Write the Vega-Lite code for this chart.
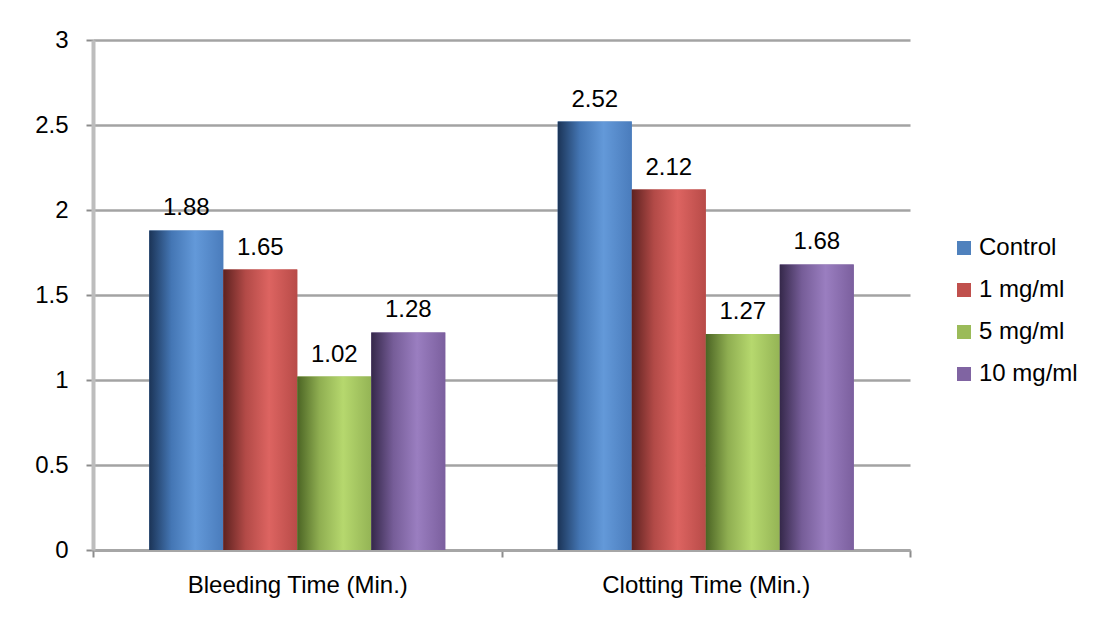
{
  "$schema": "https://vega.github.io/schema/vega-lite/v6.json",
  "width": 817,
  "height": 510,
  "autosize": {"type": "none"},
  "padding": {"left": 93, "top": 40, "right": 184, "bottom": 67},
  "background": "white",
  "config": {
    "font": "Liberation Sans",
    "view": {"stroke": null}
  },
  "data": {
    "values": [
      {"test": "Bleeding Time (Min.)", "group": "Control", "value": 1.88},
      {"test": "Bleeding Time (Min.)", "group": "1 mg/ml", "value": 1.65},
      {"test": "Bleeding Time (Min.)", "group": "5 mg/ml", "value": 1.02},
      {"test": "Bleeding Time (Min.)", "group": "10 mg/ml", "value": 1.28},
      {"test": "Clotting Time (Min.)", "group": "Control", "value": 2.52},
      {"test": "Clotting Time (Min.)", "group": "1 mg/ml", "value": 2.12},
      {"test": "Clotting Time (Min.)", "group": "5 mg/ml", "value": 1.27},
      {"test": "Clotting Time (Min.)", "group": "10 mg/ml", "value": 1.68}
    ]
  },
  "encoding": {
    "x": {
      "field": "test",
      "type": "nominal",
      "scale": {"paddingInner": 0, "paddingOuter": 0},
      "axis": {
        "title": null,
        "labelAngle": 0,
        "labelFontSize": 24,
        "labelLimit": 0,
        "labelColor": "#000000",
        "labelPadding": 16,
        "tickBand": "extent",
        "tickSize": 7,
        "tickColor": "#8c8c8c",
        "tickWidth": 2,
        "domainColor": "#a6a6a6",
        "domainWidth": 3
      }
    },
    "xOffset": {
      "field": "group",
      "type": "nominal",
      "scale": {"domain": ["Control", "1 mg/ml", "5 mg/ml", "10 mg/ml"], "paddingInner": 0, "paddingOuter": 0.76}
    },
    "y": {
      "field": "value",
      "type": "quantitative",
      "scale": {"domain": [0, 3], "nice": false},
      "axis": {
        "title": null,
        "values": [0, 0.5, 1, 1.5, 2, 2.5, 3],
        "format": "~g",
        "labelFontSize": 24,
        "labelColor": "#000000",
        "labelPadding": 18,
        "tickSize": 7,
        "tickColor": "#8c8c8c",
        "tickWidth": 2,
        "domainColor": "#bdbdbd",
        "domainWidth": 4,
        "grid": true,
        "gridColor": "#a3a3a3",
        "gridWidth": 2.5
      }
    }
  },
  "layer": [
    {
      "mark": {"type": "bar"},
      "encoding": {
        "color": {
          "field": "group",
          "type": "nominal",
          "scale": {
            "domain": ["Control", "1 mg/ml", "5 mg/ml", "10 mg/ml"],
            "range": ["#4f81bd", "#c0504d", "#9bbb59", "#8064a2"]
          },
          "legend": {
            "title": null,
            "orient": "none",
            "legendX": 859,
            "legendY": 196,
            "symbolType": "square",
            "symbolSize": 196,
            "symbolStrokeWidth": 0,
            "labelFontSize": 24,
            "labelColor": "#000000",
            "labelOffset": 3,
            "rowPadding": 18
          }
        }
      }
    },
    {
      "mark": {"type": "bar"},
      "encoding": {
        "color": {
          "condition": [
            {"test": "datum.group === 'Control'", "value": {"gradient": "linear", "x1": 0, "y1": 0, "x2": 1, "y2": 0, "stops": [
                {"offset": 0, "color": "#1b3457"},
                {"offset": 0.3, "color": "#4476b4"},
                {"offset": 0.62, "color": "#6399d9"},
                {"offset": 1, "color": "#4a7cbc"}]}},
            {"test": "datum.group === '1 mg/ml'", "value": {"gradient": "linear", "x1": 0, "y1": 0, "x2": 1, "y2": 0, "stops": [
                {"offset": 0, "color": "#5e2220"},
                {"offset": 0.3, "color": "#b24a47"},
                {"offset": 0.62, "color": "#dd6461"},
                {"offset": 1, "color": "#b84b48"}]}},
            {"test": "datum.group === '5 mg/ml'", "value": {"gradient": "linear", "x1": 0, "y1": 0, "x2": 1, "y2": 0, "stops": [
                {"offset": 0, "color": "#4b6424"},
                {"offset": 0.3, "color": "#8fae51"},
                {"offset": 0.62, "color": "#b6d86e"},
                {"offset": 1, "color": "#94b455"}]}}
          ],
          "value": {"gradient": "linear", "x1": 0, "y1": 0, "x2": 1, "y2": 0, "stops": [
                {"offset": 0, "color": "#35284a"},
                {"offset": 0.3, "color": "#765d98"},
                {"offset": 0.62, "color": "#9a7ec0"},
                {"offset": 1, "color": "#7b5f9e"}]}
        }
      }
    },
    {
      "mark": {"type": "text", "fontSize": 24, "color": "#000000", "baseline": "alphabetic", "dy": -15},
      "encoding": {
        "text": {"field": "value", "type": "quantitative", "format": ".2f"}
      }
    }
  ]
}
